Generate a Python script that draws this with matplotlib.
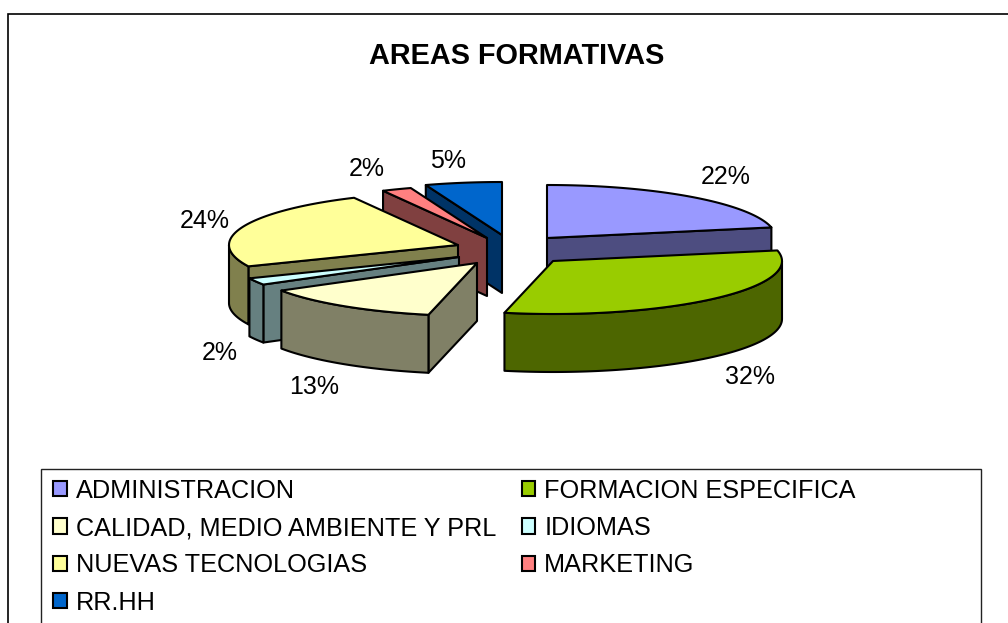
import numpy as np
import matplotlib
matplotlib.use("Agg")
import matplotlib.pyplot as plt
from matplotlib.patches import Polygon, Patch, Rectangle

# share of each area, in percent
AREAS = ["ADMINISTRACION", "FORMACION ESPECIFICA", "CALIDAD, MEDIO AMBIENTE Y PRL", "IDIOMAS",
         "NUEVAS TECNOLOGIAS", "MARKETING", "RR.HH"]
VALUES = [21.8, 31.6, 12.9, 2.1, 24.1, 2.1, 5.4]

COLORS = ["#9999FF", "#99CC00", "#FFFFCC", "#CCFFFF", "#FFFF99", "#FF8080", "#0066CC"]

# pie layout, all in pixels of the figure
CENTER = (510, 249)
RX, RY = 229, 53
DEPTH = 58
EXPLODE_X = [37, 43, -33, -51, -52, -23, -8]
EXPLODE_Y = [-11, 12, 14, 8, -4, -11, -14]
LABEL_X = [726, 750, 314, 220, 205, 367, 448]
LABEL_Y = [177.5, 377.5, 387.5, 353.5, 220.5, 168.5, 160.5]
DRAW_ORDER = [6, 5, 0, 4, 3, 2, 1]

plt.rcParams["font.family"] = ["Liberation Sans", "DejaVu Sans"]

fig = plt.figure(figsize=(10.08, 6.23), dpi=100)
ax = fig.add_axes([0, 0, 1, 1])
ax.set_xlim(0, 1008)
ax.set_ylim(623, 0)
ax.axis("off")


def rim(theta):
    return RX * np.sin(theta), -RY * np.cos(theta)


def dark(color):
    rgb = matplotlib.colors.to_rgb(color)
    return tuple(c * 0.5 for c in rgb)


def wall_visible(edge, mid):
    # a straight side shows only if the top of the slice lies above it
    ex, ey = rim(edge)
    mx, my = rim(mid)
    if abs(ex) < 1e-6:
        return False
    return my < ey / ex * mx


edges = np.radians(np.cumsum([0] + VALUES) / sum(VALUES) * 360)

# both frames run off the picture, as in the original
ax.add_patch(Rectangle((8, 14), 1100, 700, fc="white", ec="black", lw=1.2))
ax.add_patch(Rectangle((41, 469), 940, 200, fc="white", ec="#222222", lw=1.0))

ax.text(517, 56, "AREAS FORMATIVAS", fontsize=20.8, fontweight="bold", ha="center", va="center")

for i in DRAW_ORDER:
    a0, a1 = edges[i], edges[i + 1]
    x0 = CENTER[0] + EXPLODE_X[i]
    y0 = CENTER[1] + EXPLODE_Y[i]
    mid = (a0 + a1) / 2
    style = dict(ec="black", lw=1.5, joinstyle="round")

    for edge in (a0, a1):
        if wall_visible(edge, mid):
            ex, ey = rim(edge)
            pts = [(x0, y0), (x0 + ex, y0 + ey), (x0 + ex, y0 + ey + DEPTH), (x0, y0 + DEPTH)]
            ax.add_patch(Polygon(pts, fc=dark(COLORS[i]), **style))

    # rounded outside, only the part turned towards the viewer
    lo, hi = max(a0, np.pi / 2), min(a1, 3 * np.pi / 2)
    if hi > lo:
        t = np.linspace(lo, hi, 80)
        xs, ys = rim(t)
        top = np.column_stack([x0 + xs, y0 + ys])
        bottom = top[::-1] + [0, DEPTH]
        ax.add_patch(Polygon(np.vstack([top, bottom]), fc=dark(COLORS[i]), **style))

    t = np.linspace(a0, a1, 80)
    xs, ys = rim(t)
    pts = np.vstack([[(x0, y0)], np.column_stack([x0 + xs, y0 + ys])])
    ax.add_patch(Polygon(pts, fc=COLORS[i], **style))

for i, v in enumerate(VALUES):
    ax.text(LABEL_X[i], LABEL_Y[i], f"{round(v)}%", fontsize=18, ha="center", va="center")

handles = [Patch(fc=COLORS[i], ec="black", lw=1.5, label=AREAS[i]) for i in range(len(AREAS))]
# legend fills by column, the chart reads by row
order = [0, 2, 4, 6, 1, 3, 5]
ax.legend([handles[i] for i in order], [AREAS[i] for i in order], ncol=2, loc="upper left",
          bbox_to_anchor=(43, 468.5), bbox_transform=ax.transData, frameon=False, fontsize=18.2,
          handlelength=0.55, handleheight=0.55, handletextpad=0.35, columnspacing=1.0,
          labelspacing=0.53, borderpad=0.4, borderaxespad=0)

fig.savefig("out.png", dpi=100)
